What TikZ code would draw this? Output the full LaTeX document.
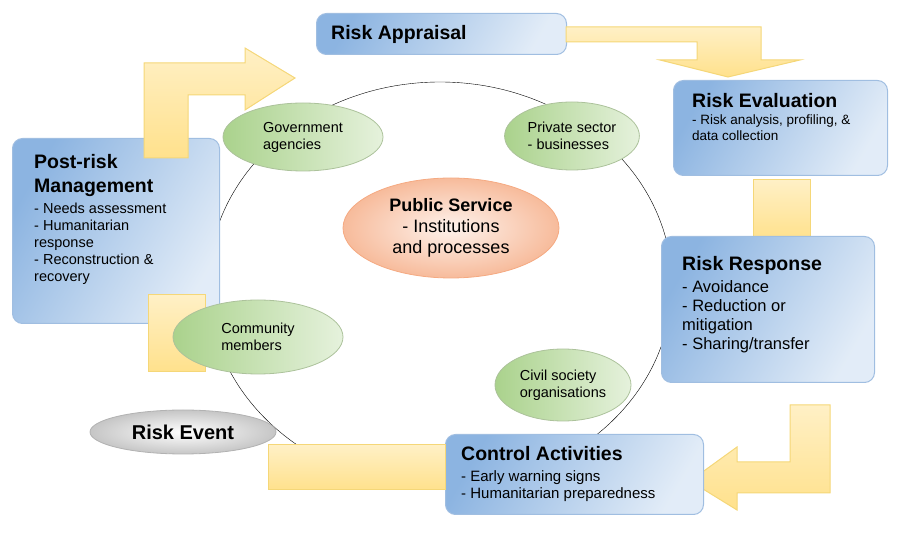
\documentclass[tikz,border=0pt]{standalone}
\usepackage{fontspec}
\setmainfont{Liberation Sans}
\usetikzlibrary{shapes.geometric}
\definecolor{boxblue}{RGB}{140,180,225}
\definecolor{boxline}{RGB}{160,190,225}
\definecolor{arrowfill}{RGB}{255,225,140}
\definecolor{arrowline}{RGB}{245,215,120}
\definecolor{greenfill}{RGB}{170,210,140}
\definecolor{orangefill}{RGB}{245,170,130}
\tikzset{
  stagebox/.style={draw=boxline, line width=1pt, rounded corners=10pt,
    left color=boxblue, right color=boxblue!25, shading angle=60},
  flowarrow/.style={draw=arrowline, line width=1pt, top color=arrowfill!50, bottom color=arrowfill},
  actor/.style={ellipse, draw=greenfill!80!black!70, line width=0.8pt,
    left color=greenfill, right color=greenfill!30, font=\fontsize{14.5}{17}\selectfont, align=left},
  title/.style={font=\fontsize{19.5}{22}\selectfont\bfseries, anchor=north west, inner sep=0pt},
  body/.style={font=\fontsize{15}{17}\selectfont, anchor=north west, inner sep=0pt, align=left}
}
\begin{document}
\begin{tikzpicture}[x=1pt,y=-1pt]
\useasboundingbox (0,0) rectangle (898,534);
% circle of actors
\node[ellipse, draw, minimum width=464pt, minimum height=406pt, inner sep=0pt] (ring) at (440,285) {};
% boxes
\node[stagebox, minimum width=250pt, minimum height=41pt, anchor=north west] (appraisal) at (316,13) {};
\node[title, anchor=west] (appraisalt) at (331,34) {Risk Appraisal};
\node[stagebox, minimum width=214pt, minimum height=95pt, anchor=north west] (evaluation) at (673,80) {};
\node[title] (evaluationt) at (692,93) {Risk Evaluation};
\node[body, font=\fontsize{13.5}{15.5}\selectfont] (evaluationb) at (692,115) {- Risk analysis, profiling, \&\\data collection};
% connector block evaluation -> response
\draw[flowarrow] (753,180) rectangle (810,240);
\node[stagebox, minimum width=213pt, minimum height=146pt, anchor=north west] (response) at (661,236) {};
\node[title] (responset) at (682,256) {Risk Response};
\node[body, font=\fontsize{16.5}{19}\selectfont] (responseb) at (682,280) {- Avoidance\\- Reduction or\\mitigation\\- Sharing/transfer};
% bent arrow appraisal -> evaluation
\draw[flowarrow] (566,27) -- (761,27) -- (761,60) -- (800,60) -- (728,77) -- (660,60) -- (697,60) -- (697,42) -- (566,42) -- cycle;
% bent arrow response -> control
\draw[flowarrow] (790,405) -- (830,405) -- (830,493) -- (737,493) -- (737,510) -- (690,481) -- (737,447) -- (737,462) -- (790,462) -- cycle;
\node[stagebox, minimum width=258pt, minimum height=80pt, anchor=north west] (control) at (445,434) {};
\node[title] (controlt) at (461,446) {Control Activities};
\node[body] (controlb) at (461,470) {- Early warning signs\\- Humanitarian preparedness};
% block control -> event
\draw[flowarrow] (268,445) rectangle (445,490);
\node[ellipse, draw=gray!60, line width=0.8pt, minimum width=186pt, minimum height=44pt, inner color=white, outer color=gray!45,
  font=\fontsize{20}{22}\selectfont\bfseries] (event) at (183,432) {Risk Event};
% post-risk
\node[stagebox, minimum width=207pt, minimum height=185pt, anchor=north west] (postrisk) at (12,138) {};
\node[title, align=left, font=\fontsize{19.5}{24}\selectfont\bfseries] (postriskt) at (34,154) {Post-risk\\Management};
\node[body, font=\fontsize{14.5}{17}\selectfont] (postriskb) at (34,203) {- Needs assessment\\- Humanitarian\\response\\- Reconstruction \&\\recovery};
\draw[flowarrow] (148,295) rectangle (205,372);
% bent arrow post-risk -> appraisal
\draw[flowarrow] (144,158) -- (144,63) -- (245,63) -- (245,48) -- (295,78) -- (245,110) -- (245,95) -- (188,95) -- (188,158) -- cycle;
% actors
\node[actor, minimum width=160pt, minimum height=68pt] (government) at (303,137) {Government\\agencies};
\node[actor, minimum width=130pt, minimum height=68pt] (private) at (572,136) {Private sector\\- businesses};
\node[actor, minimum width=170pt, minimum height=74pt] (community) at (258,337) {Community\\members};
\node[actor, minimum width=136pt, minimum height=72pt] (civil) at (563,385) {Civil society\\organisations};
\node[ellipse, draw=orangefill, line width=0.8pt, minimum width=216pt, minimum height=100pt, inner sep=0pt, inner color=orangefill!15, outer color=orangefill!80,
  font=\fontsize{18}{21}\selectfont, align=center] (public) at (451,228) {\textbf{Public Service}\\- Institutions\\and processes};
\end{tikzpicture}
\end{document}
